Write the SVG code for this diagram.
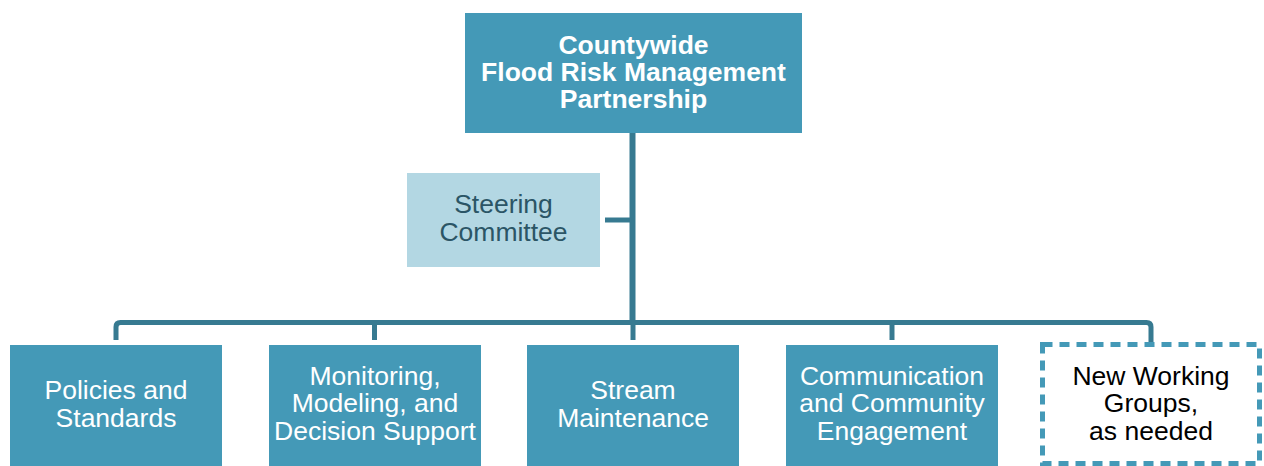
<svg xmlns="http://www.w3.org/2000/svg" width="1264" height="466" viewBox="0 0 1264 466">
  <style>
    .box { fill: #4499b7; }
    .steer { fill: #b3d7e3; }
    .link { fill: none; stroke: #377a91; stroke-width: 5; stroke-linejoin: round; }
    .dash { fill: #ffffff; stroke: #4499b7; stroke-width: 5; stroke-dasharray: 10 7; }
    .t { font-family: "Liberation Sans", Arial, sans-serif; font-size: 26.5px; text-anchor: middle; }
    .w { fill: #ffffff; }
    .b { font-weight: bold; }
    .s { fill: #2b5566; }
    .k { fill: #000000; }
  </style>
  <rect width="1264" height="466" fill="#ffffff"/>

  <g id="connectors">
    <path class="link" d="M632.5 133 V322.5" style="stroke-width:6"/>
    <path class="link" d="M605 220 H632"/>
    <path class="link" d="M116 340 V327 Q116 322.5 120.5 322.5 H1146.5 Q1151 322.5 1151 327 V345"/>
    <path class="link" d="M374.5 322 V340"/>
    <path class="link" d="M633 322 V340"/>
    <path class="link" d="M892 322 V340"/>
  </g>

  <g id="partnership">
    <rect class="box" x="465" y="13" width="337" height="120"/>
    <text class="t w b" x="633.5" y="54">Countywide</text>
    <text class="t w b" x="633.5" y="81">Flood Risk Management</text>
    <text class="t w b" x="633.5" y="108">Partnership</text>
  </g>

  <g id="steering">
    <rect class="steer" x="407" y="173" width="193" height="94"/>
    <text class="t s" x="503.5" y="213">Steering</text>
    <text class="t s" x="503.5" y="241">Committee</text>
  </g>

  <g id="policies">
    <rect class="box" x="10" y="345" width="212" height="121"/>
    <text class="t w" x="116" y="399">Policies and</text>
    <text class="t w" x="116" y="427">Standards</text>
  </g>

  <g id="monitoring">
    <rect class="box" x="269" y="345" width="212" height="121"/>
    <text class="t w" x="375" y="385">Monitoring,</text>
    <text class="t w" x="375" y="412">Modeling, and</text>
    <text class="t w" x="375" y="440">Decision Support</text>
  </g>

  <g id="stream">
    <rect class="box" x="527" y="345" width="212" height="121"/>
    <text class="t w" x="633" y="399">Stream</text>
    <text class="t w" x="633" y="427">Maintenance</text>
  </g>

  <g id="communication">
    <rect class="box" x="786" y="345" width="212" height="121"/>
    <text class="t w" x="892" y="385">Communication</text>
    <text class="t w" x="892" y="412">and Community</text>
    <text class="t w" x="892" y="440">Engagement</text>
  </g>

  <g id="new-groups">
    <rect class="dash" x="1042.5" y="344.5" width="217" height="119"/>
    <text class="t k" x="1151" y="385">New Working</text>
    <text class="t k" x="1151" y="412">Groups,</text>
    <text class="t k" x="1151" y="440">as needed</text>
  </g>
</svg>
